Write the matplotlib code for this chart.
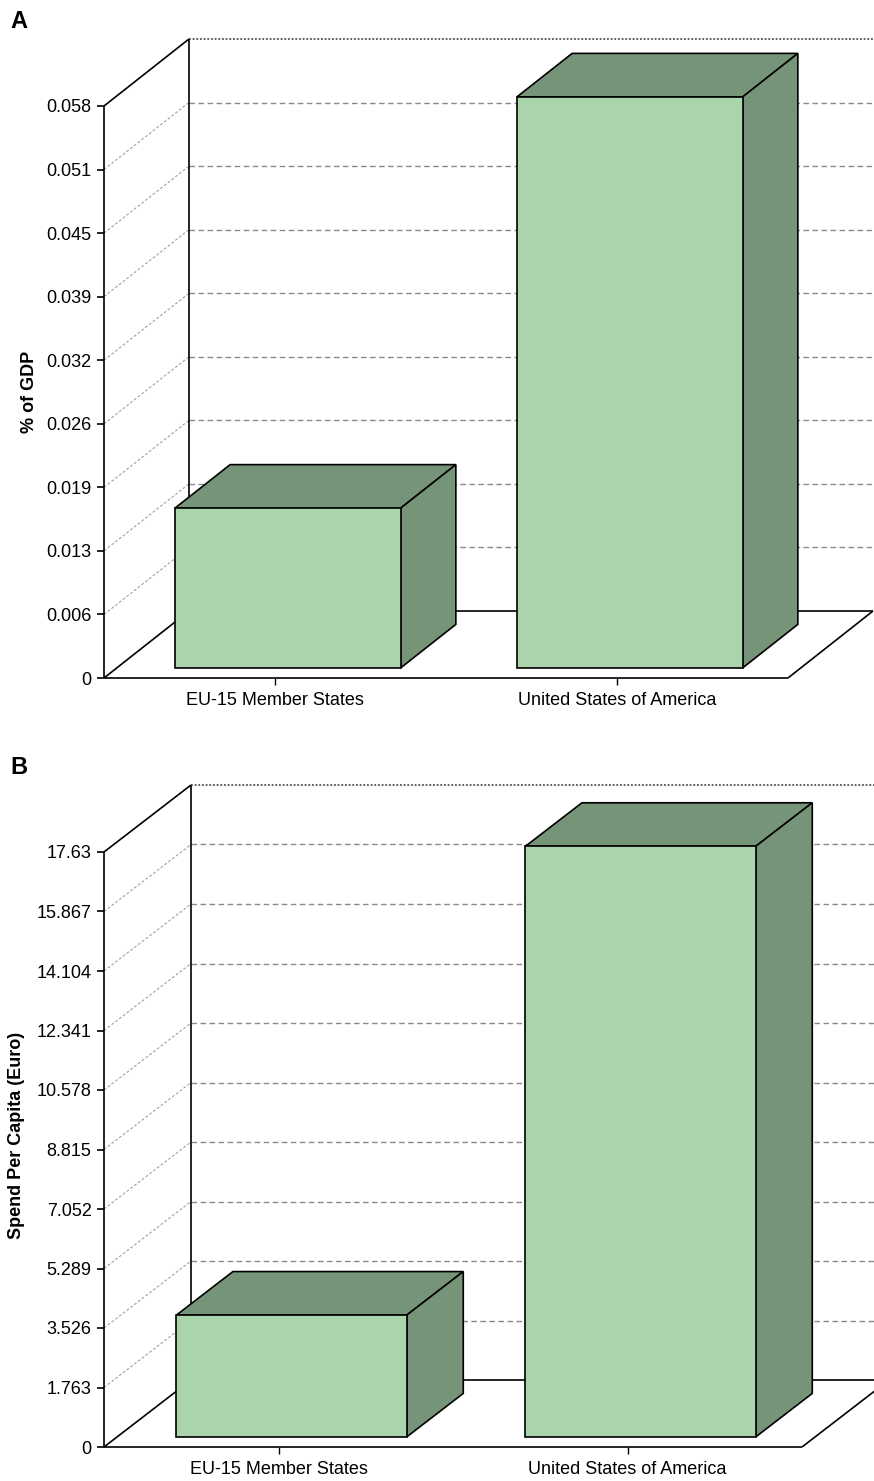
import matplotlib
matplotlib.use('Agg')
import matplotlib.pyplot as plt
from matplotlib.patches import Polygon

plt.rcParams['font.family'] = ['Liberation Sans', 'DejaVu Sans']

# ===============================
# DATA
# ===============================
categories = ['EU-15 Member States', 'United States of America']

gdp_share = [0.0162, 0.0579]
# ticks are evenly spaced (0.058 / 9), labels are rounded
gdp_ticks = [0, 0.00644, 0.01289, 0.01933, 0.02578, 0.03222,
             0.03867, 0.04511, 0.05156, 0.058]
gdp_tick_labels = ['0', '0.006', '0.013', '0.019', '0.026', '0.032',
                   '0.039', '0.045', '0.051', '0.058']

spend = [3.61, 17.5]
spend_ticks = [0, 1.763, 3.526, 5.289, 7.052, 8.815, 10.578, 12.341, 14.104, 15.867, 17.63]
spend_tick_labels = ['0', '1.763', '3.526', '5.289', '7.052', '8.815',
                     '10.578', '12.341', '14.104', '15.867', '17.63']

# ===============================
# STYLE
# ===============================
FRONT = '#aad4ab'
SHADE = '#769477'
GRID = '#8a8a8a'
W, H = 874, 1481

fig = plt.figure(figsize=(W / 100, H / 100), dpi=100)


def draw_panel(left, right, bottom, top, dx_px, dy_px, values, ticks, labels):
    # front plane in pixels: x left..right, y bottom..top
    ymax = ticks[-1]
    DX = 2.0 * dx_px / (right - left)
    DY = ymax * dy_px / (bottom - top)
    ax = fig.add_axes([left / W, 1 - bottom / H,
                       (right + dx_px - left) / W, (bottom - top + dy_px) / H])
    ax.set_xlim(-0.5, 1.5 + DX)
    ax.set_ylim(0, ymax + DY)
    for s in ax.spines.values():
        s.set_visible(False)
    ax.patch.set_alpha(0)

    x0, x1 = -0.5, 1.5
    bx0 = x0 + DX
    line = dict(color='black', lw=1.2, clip_on=False, solid_capstyle='butt')

    # back wall gridlines + side wall diagonals
    for t in ticks[1:-1]:
        ax.plot([bx0, x1 + DX], [t + DY, t + DY], color=GRID, lw=1.0,
                linestyle=(0, (4, 2.5)), zorder=1)
        ax.plot([x0, bx0], [t, t + DY], color='#a0a0a0', lw=0.8,
                linestyle=(0, (2.5, 1.8)), zorder=1)
    ax.plot([bx0, x1 + DX], [ymax + DY, ymax + DY], color='#333333', lw=1.1,
            linestyle=(0, (1.2, 1.2)), zorder=1, clip_on=False)

    # walls and floor
    ax.plot([bx0, bx0], [DY, ymax + DY], zorder=2, **line)
    ax.plot([x0, bx0], [ymax, ymax + DY], zorder=2, **line)
    ax.plot([x0, x0], [0, ymax], zorder=2, **line)
    ax.add_patch(Polygon([(x0, 0), (x1, 0), (x1 + DX, DY), (bx0, DY)],
                         closed=True, facecolor='white', edgecolor='none', zorder=1.5))
    ax.plot([x0, bx0], [0, DY], zorder=2, **line)
    ax.plot([bx0, x1 + DX], [DY, DY], zorder=2, **line)
    ax.plot([x1, x1 + DX], [0, DY], zorder=2, **line)
    ax.plot([x0, x1], [0, 0], zorder=2, **line)

    # bars (front at 15% depth, back at 80% depth)
    d0, d1 = 0.15, 0.80
    width = 0.66
    for i, v in enumerate(values):
        xl = i - width / 2 + d0 * DX
        xr = xl + width
        b = d0 * DY
        ox, oy = (d1 - d0) * DX, (d1 - d0) * DY
        ax.add_patch(Polygon([(xl, v + b), (xr, v + b), (xr + ox, v + b + oy),
                              (xl + ox, v + b + oy)], closed=True,
                             facecolor=SHADE, edgecolor='black', lw=1.2, zorder=3))
        ax.add_patch(Polygon([(xr, b), (xr, v + b), (xr + ox, v + b + oy),
                              (xr + ox, b + oy)], closed=True,
                             facecolor=SHADE, edgecolor='black', lw=1.2, zorder=3))
        ax.bar(i + d0 * DX, v, width=width, bottom=b, color=FRONT,
               edgecolor='black', linewidth=1.2, zorder=4)

    ax.set_yticks(ticks)
    ax.set_yticklabels(labels)
    ax.set_xticks([0, 1])
    ax.set_xticklabels(categories)
    ax.tick_params(axis='y', length=5, width=1.2, pad=4, labelsize=13)
    ax.tick_params(axis='x', length=5, width=1.0, pad=5, labelsize=13)
    return ax


axA = draw_panel(104, 788, 678, 106, 85, 67, gdp_share, gdp_ticks, gdp_tick_labels)
axB = draw_panel(104, 802, 1447, 852, 87, 67, spend, spend_ticks, spend_tick_labels)

fig.text(30 / W, 1 - 392 / H, '% of GDP', rotation=90, fontsize=13,
         fontweight='bold', ha='center', va='center')
fig.text(17 / W, 1 - 1135 / H, 'Spend Per Capita (Euro)', rotation=90,
         fontsize=13, fontweight='bold', ha='center', va='center')

fig.text(10 / W, 1 - 21 / H, 'A', fontsize=17, fontweight='bold', va='center')
fig.text(10 / W, 1 - 768 / H, 'B', fontsize=17, fontweight='bold', va='center')

fig.savefig('out.png', dpi=100)
